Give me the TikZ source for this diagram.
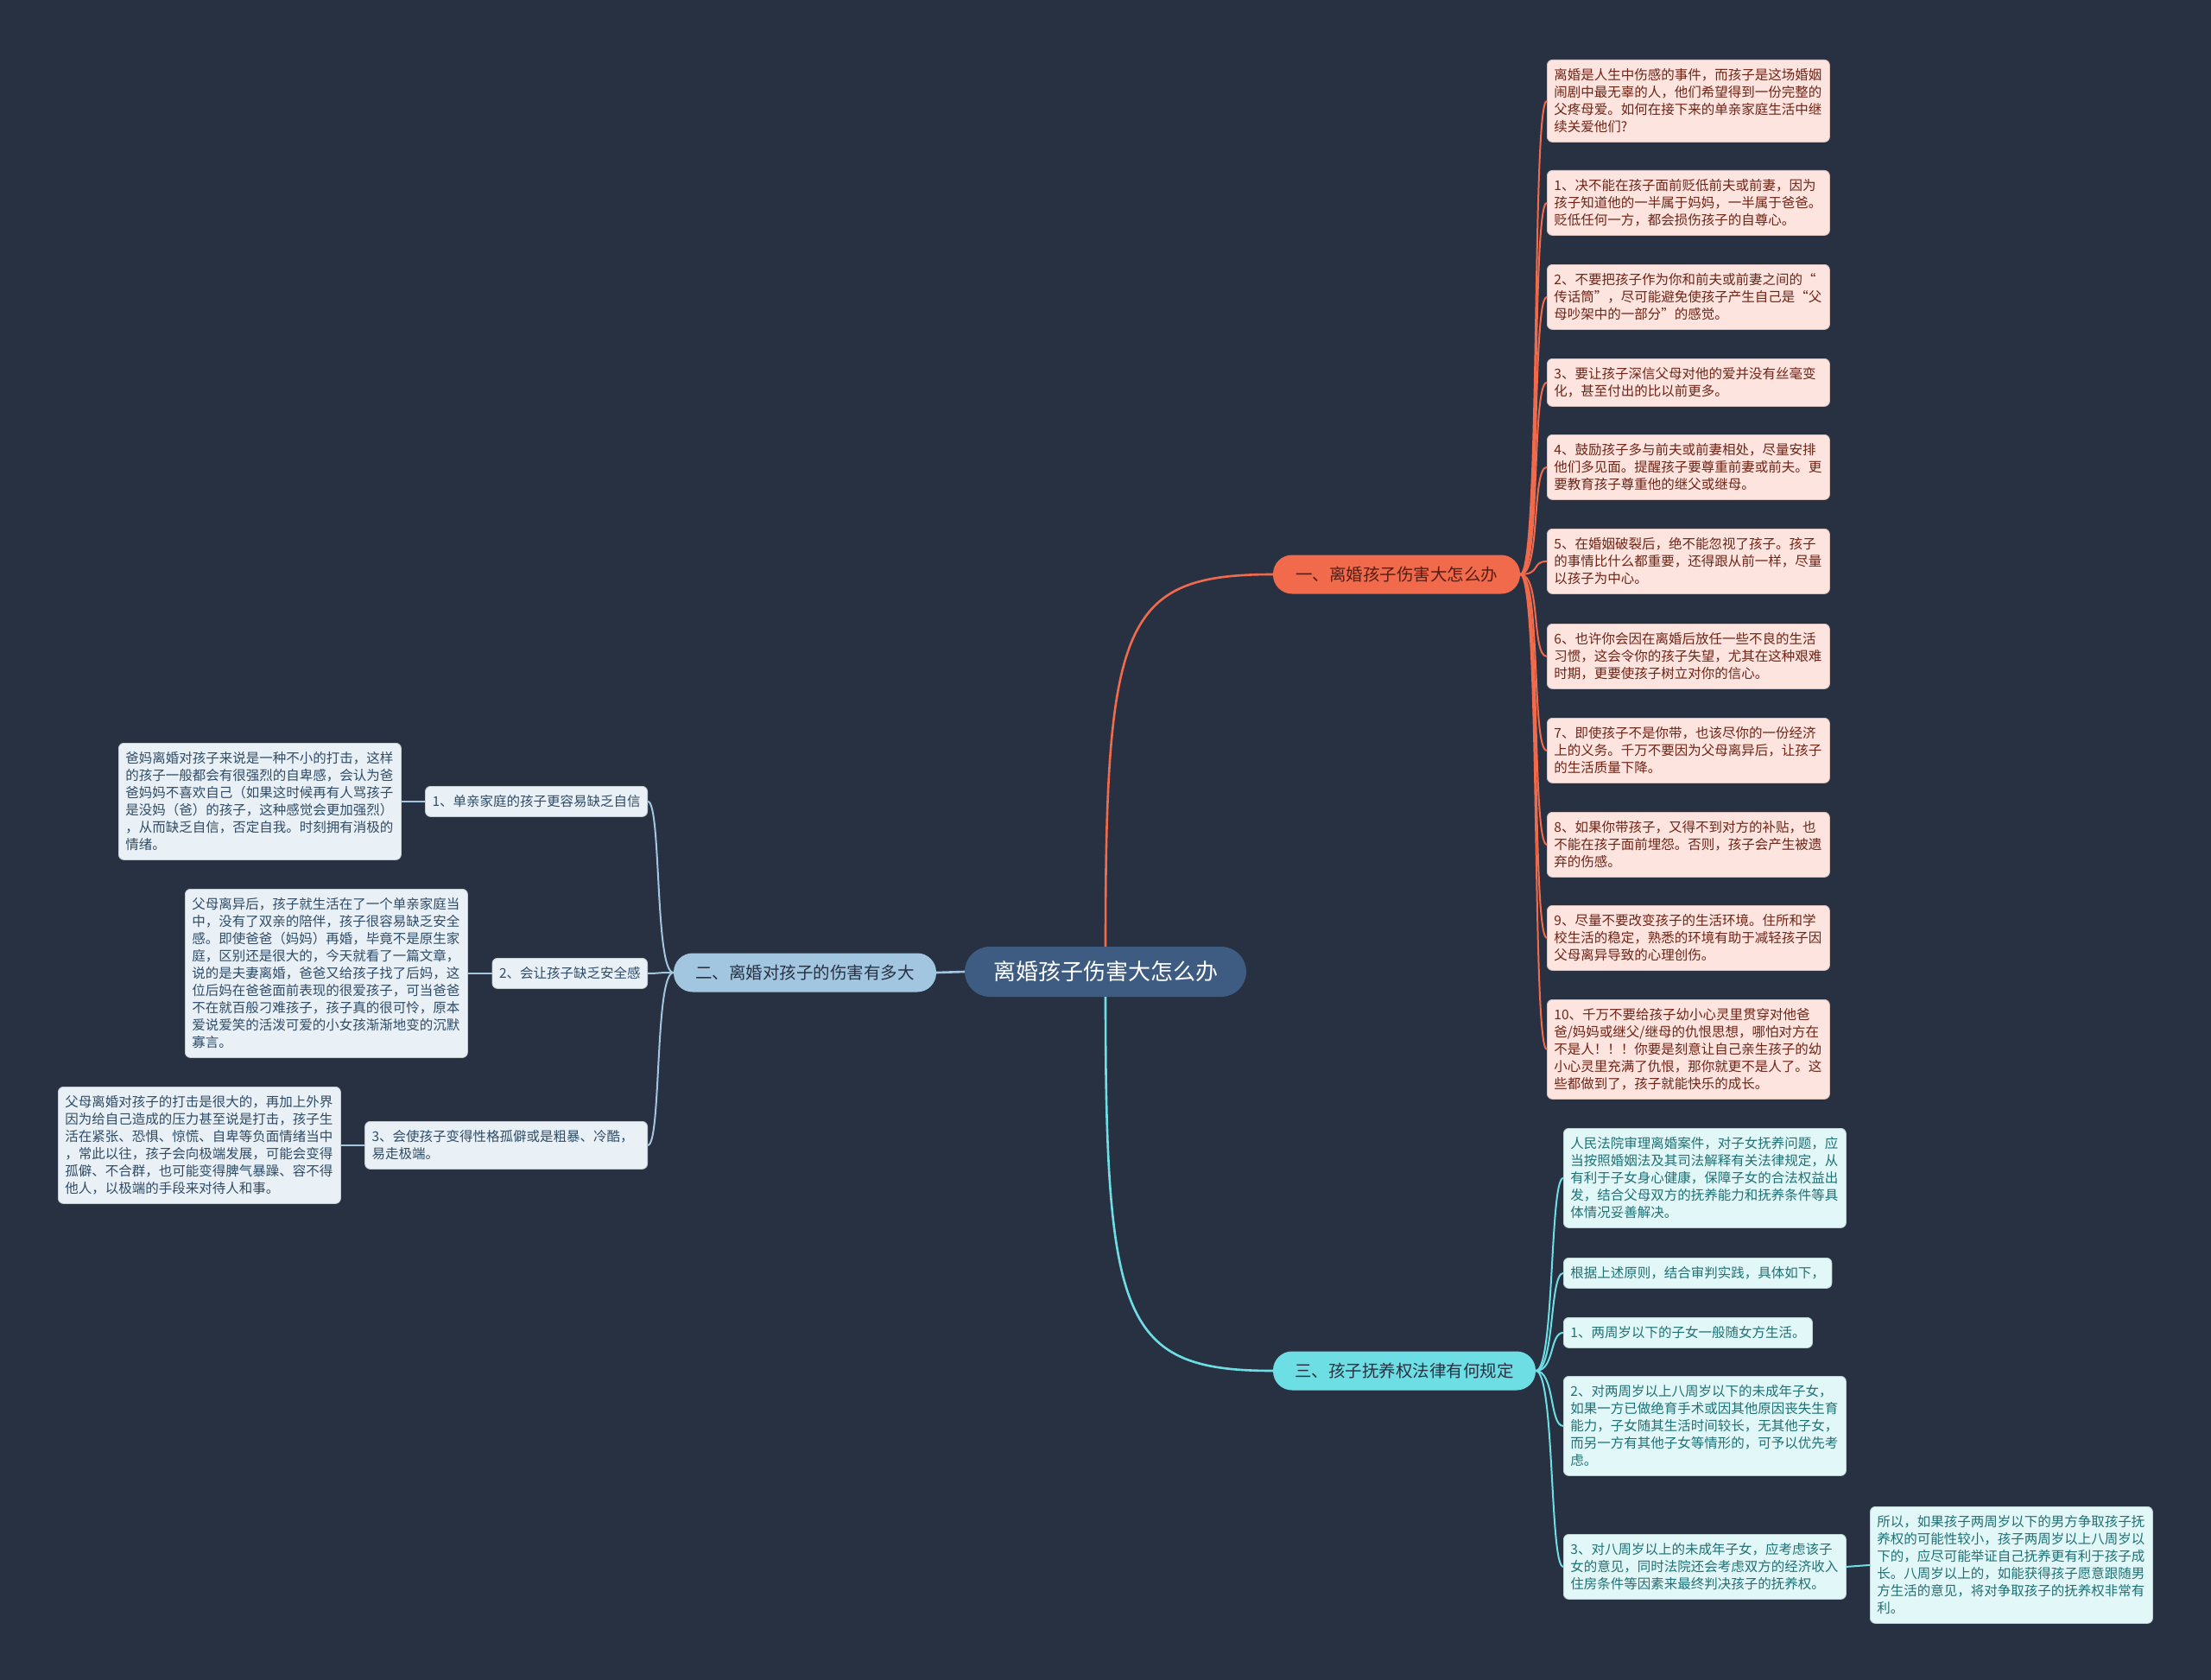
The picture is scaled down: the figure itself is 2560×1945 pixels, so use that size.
\documentclass[tikz,border=0pt]{standalone}
\usepackage{fontspec}
\setmainfont{Noto Sans CJK SC}
\definecolor{bg}{HTML}{283142}
\definecolor{rootfill}{HTML}{3E5C82}
\definecolor{sOne}{HTML}{F06A4B}
\definecolor{sTwo}{HTML}{A3C6E0}
\definecolor{sThree}{HTML}{6DDFE4}
\definecolor{pinkfill}{HTML}{FDE4DE}
\definecolor{pinktext}{HTML}{6E2417}
\definecolor{bluefill}{HTML}{E9F1F7}
\definecolor{bluetext}{HTML}{2F4B66}
\definecolor{cyanfill}{HTML}{E2F8F8}
\definecolor{cyantext}{HTML}{1F7075}
\begin{document}
\begin{tikzpicture}[x=1pt,y=-1pt,
  base/.style={rounded corners=6pt, inner xsep=8pt, inner ysep=0pt, align=left,
    font=\fontsize{15.5}{20}\selectfont, anchor=north west, line width=0.8pt},
  nlines/.style={minimum height={#1*20+15}},
  pinkbox/.style={base, fill=pinkfill, draw=pinkfill!85!black, text=pinktext, text width=311pt},
  bluebox/.style={base, fill=bluefill, draw=bluefill!85!black, text=bluetext},
  cyanbox/.style={base, fill=cyanfill, draw=cyanfill!85!black, text=cyantext},
  wide/.style={text width=311pt},
  rootnode/.style={fill=rootfill, text=white, rounded corners=29pt, minimum width=326pt,
    minimum height=58pt, inner sep=0pt, font=\fontsize{26}{30}\selectfont},
  secnode/.style={rounded corners=22pt, minimum height=45pt, minimum width=#1, inner sep=0pt,
    font=\fontsize{19.5}{24}\selectfont},
  mainOne/.style={draw=sOne, line width=2.6pt},
  mainTwo/.style={draw=sTwo, line width=2.6pt},
  mainThree/.style={draw=sThree, line width=2.6pt},
  subOne/.style={draw=sOne, line width=2pt},
  subTwo/.style={draw=sTwo, line width=2pt},
  subThree/.style={draw=sThree, line width=2pt}
]
\fill[bg] (0,0) rectangle (2560,1945);
\useasboundingbox (0,0) rectangle (2560,1945);

% main nodes
\node[rootnode] (root) at (1280,1125) {离婚孩子伤害大怎么办};
\node[secnode=286pt, fill=sOne, text=pinktext!80!black] (s1) at (1617,665) {一、离婚孩子伤害大怎么办};
\node[secnode=304pt, fill=sTwo, text=bg] (s2) at (932,1126) {二、离婚对孩子的伤害有多大};
\node[secnode=304pt, fill=sThree, text=bg] (s3) at (1626,1587) {三、孩子抚养权法律有何规定};

% section 1 children
\node[pinkbox, nlines=4] (b0) at (1791,69) {离婚是人生中伤感的事件，而孩子是这场婚姻\\闹剧中最无辜的人，他们希望得到一份完整的\\父疼母爱。如何在接下来的单亲家庭生活中继\\续关爱他们?};
\node[pinkbox, nlines=3] (b1) at (1791,197) {1、决不能在孩子面前贬低前夫或前妻，因为\\孩子知道他的一半属于妈妈，一半属于爸爸。\\贬低任何一方，都会损伤孩子的自尊心。};
\node[pinkbox, nlines=3] (b2) at (1791,306) {2、不要把孩子作为你和前夫或前妻之间的“\\传话筒”，尽可能避免使孩子产生自己是“父\\母吵架中的一部分”的感觉。};
\node[pinkbox, nlines=2] (b3) at (1791,415) {3、要让孩子深信父母对他的爱并没有丝毫变\\化，甚至付出的比以前更多。};
\node[pinkbox, nlines=3] (b4) at (1791,503) {4、鼓励孩子多与前夫或前妻相处，尽量安排\\他们多见面。提醒孩子要尊重前妻或前夫。更\\要教育孩子尊重他的继父或继母。};
\node[pinkbox, nlines=3] (b5) at (1791,612) {5、在婚姻破裂后，绝不能忽视了孩子。孩子\\的事情比什么都重要，还得跟从前一样，尽量\\以孩子为中心。};
\node[pinkbox, nlines=3] (b6) at (1791,722) {6、也许你会因在离婚后放任一些不良的生活\\习惯，这会令你的孩子失望，尤其在这种艰难\\时期，更要使孩子树立对你的信心。};
\node[pinkbox, nlines=3] (b7) at (1791,831) {7、即使孩子不是你带，也该尽你的一份经济\\上的义务。千万不要因为父母离异后，让孩子\\的生活质量下降。};
\node[pinkbox, nlines=3] (b8) at (1791,940) {8、如果你带孩子，又得不到对方的补贴，也\\不能在孩子面前埋怨。否则，孩子会产生被遗\\弃的伤感。};
\node[pinkbox, nlines=3] (b9) at (1791,1048) {9、尽量不要改变孩子的生活环境。住所和学\\校生活的稳定，熟悉的环境有助于减轻孩子因\\父母离异导致的心理创伤。};
\node[pinkbox, nlines=5] (b10) at (1791,1157) {10、千万不要给孩子幼小心灵里贯穿对他爸\\爸/妈妈或继父/继母的仇恨思想，哪怕对方在\\不是人！！！你要是刻意让自己亲生孩子的幼\\小心灵里充满了仇恨，那你就更不是人了。这\\些都做到了，孩子就能快乐的成长。};

% section 2 children
\node[bluebox, nlines=1, anchor=north east] (d1) at (750,910) {1、单亲家庭的孩子更容易缺乏自信};
\node[bluebox, nlines=1, anchor=north east] (d2) at (750,1109) {2、会让孩子缺乏安全感};
\node[bluebox, nlines=2, anchor=north east, wide] (d3) at (750,1298) {3、会使孩子变得性格孤僻或是粗暴、冷酷，\\易走极端。};
\node[bluebox, nlines=6, wide] (e1) at (137,860) {爸妈离婚对孩子来说是一种不小的打击，这样\\的孩子一般都会有很强烈的自卑感，会认为爸\\爸妈妈不喜欢自己（如果这时候再有人骂孩子\\是没妈（爸）的孩子，这种感觉会更加强烈）\\，从而缺乏自信，否定自我。时刻拥有消极的\\情绪。};
\node[bluebox, nlines=9, wide] (e2) at (214,1029) {父母离异后，孩子就生活在了一个单亲家庭当\\中，没有了双亲的陪伴，孩子很容易缺乏安全\\感。即使爸爸（妈妈）再婚，毕竟不是原生家\\庭，区别还是很大的，今天就看了一篇文章，\\说的是夫妻离婚，爸爸又给孩子找了后妈，这\\位后妈在爸爸面前表现的很爱孩子，可当爸爸\\不在就百般刁难孩子，孩子真的很可怜，原本\\爱说爱笑的活泼可爱的小女孩渐渐地变的沉默\\寡言。};
\node[bluebox, nlines=6, wide] (e3) at (67,1258) {父母离婚对孩子的打击是很大的，再加上外界\\因为给自己造成的压力甚至说是打击，孩子生\\活在紧张、恐惧、惊慌、自卑等负面情绪当中\\，常此以往，孩子会向极端发展，可能会变得\\孤僻、不合群，也可能变得脾气暴躁、容不得\\他人，以极端的手段来对待人和事。};

% section 3 children
\node[cyanbox, nlines=5, wide] (c0) at (1810,1306) {人民法院审理离婚案件，对子女抚养问题，应\\当按照婚姻法及其司法解释有关法律规定，从\\有利于子女身心健康，保障子女的合法权益出\\发，结合父母双方的抚养能力和抚养条件等具\\体情况妥善解决。};
\node[cyanbox, nlines=1] (c1) at (1810,1456) {根据上述原则，结合审判实践，具体如下，};
\node[cyanbox, nlines=1] (c2) at (1810,1525) {1、两周岁以下的子女一般随女方生活。};
\node[cyanbox, nlines=5, wide] (c3) at (1810,1593) {2、对两周岁以上八周岁以下的未成年子女，\\如果一方已做绝育手术或因其他原因丧失生育\\能力，子女随其生活时间较长，无其他子女，\\而另一方有其他子女等情形的，可予以优先考\\虑。};
\node[cyanbox, nlines=3, wide] (c4) at (1810,1776) {3、对八周岁以上的未成年子女，应考虑该子\\女的意见，同时法院还会考虑双方的经济收入\\住房条件等因素来最终判决孩子的抚养权。};
\node[cyanbox, nlines=6, wide] (c5) at (2165,1744) {所以，如果孩子两周岁以下的男方争取孩子抚\\养权的可能性较小，孩子两周岁以上八周岁以\\下的，应尽可能举证自己抚养更有利于孩子成\\长。八周岁以上的，如能获得孩子愿意跟随男\\方生活的意见，将对争取孩子的抚养权非常有\\利。};

% main connectors
\draw[mainOne] (root.north) .. controls (1280,720) and (1300,665) .. (s1.west);
\draw[mainThree] (root.south) .. controls (1280,1530) and (1300,1587) .. (s3.west);
\draw[mainTwo] (root.west) -- (s2.east);

% section 1 connectors
\foreach \n in {b0,b1,b2,b3,b4,b5,b6,b7,b8,b9,b10}
  \draw[subOne] (s1.east) .. controls +(24,0) and +(-18,0) .. (\n.west);
% section 2 connectors
\foreach \n in {d1,d2,d3}
  \draw[subTwo] (s2.west) .. controls +(-22,0) and +(16,0) .. (\n.east);
\draw[subTwo] (d1.west) -- (e1.east);
\draw[subTwo] (d2.west) -- (e2.east);
\draw[subTwo] (d3.west) -- (e3.east);
% section 3 connectors
\foreach \n in {c0,c1,c2,c3,c4}
  \draw[subThree] (s3.east) .. controls +(22,0) and +(-16,0) .. (\n.west);
\draw[subThree] (c4.east) -- (c5.west);
\end{tikzpicture}
\end{document}
